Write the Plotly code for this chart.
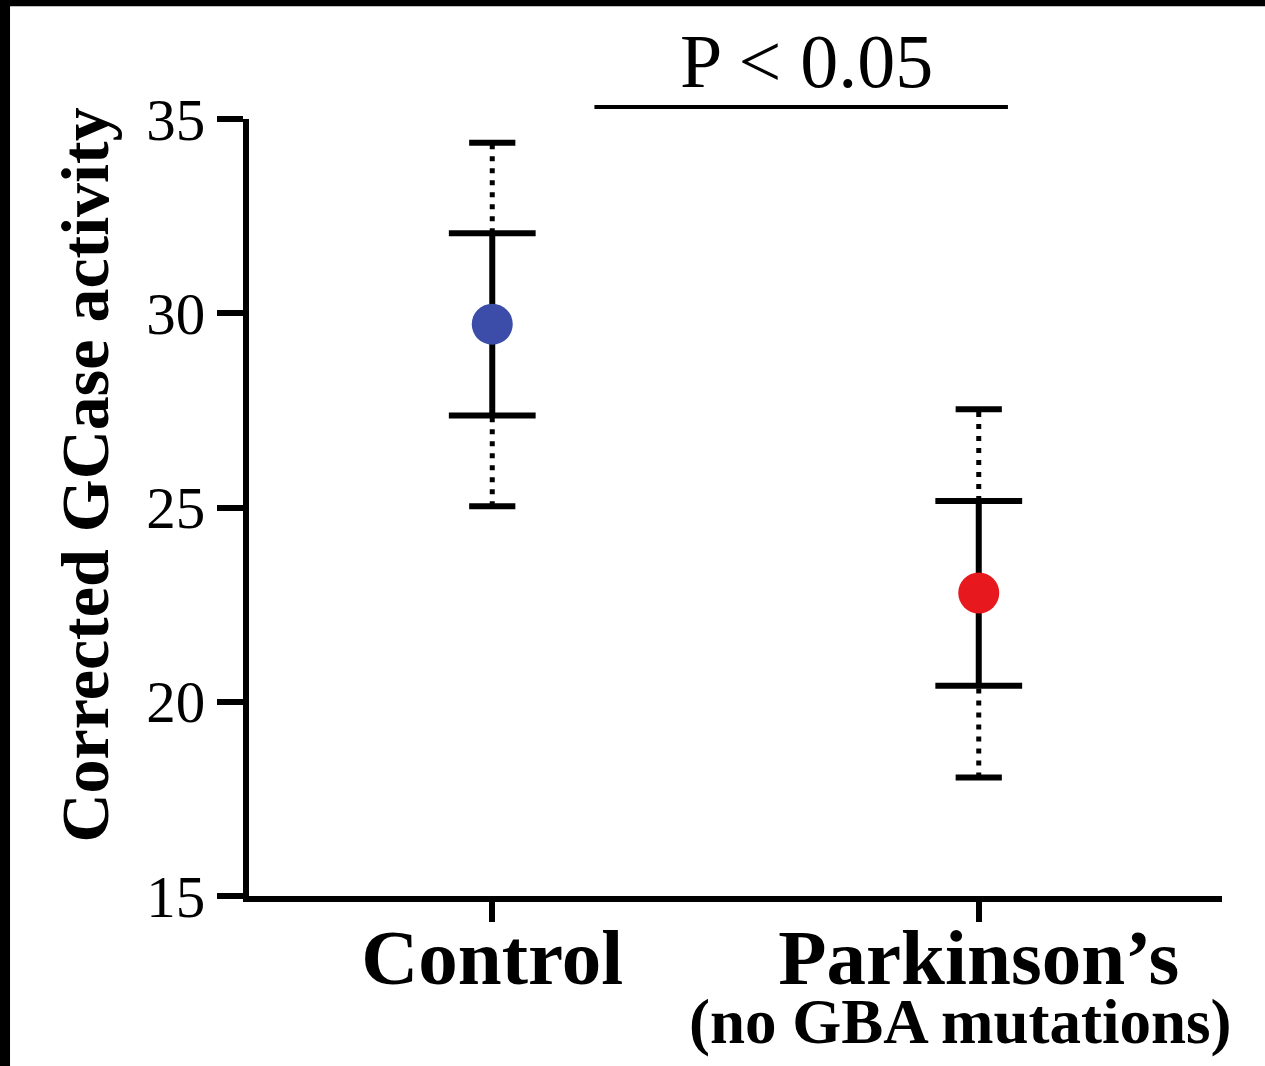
import plotly.graph_objects as go

# ---- data ----
groups = ["Control", "Parkinson’s"]
subtitle = "(no GBA mutations)"
means = [29.72, 22.80]
sd_low = [27.37, 20.41]
sd_high = [32.06, 25.17]
range_low = [25.03, 18.05]
range_high = [34.39, 27.53]
colors = ["#3B4DA8", "#E8191E"]
y_ticks = [15, 20, 25, 30, 35]
p_text = "P < 0.05"
y_title = "Corrected GCase activity"

FONT = "Liberation Serif, Times New Roman, serif"
pos = list(range(len(groups)))

fig = go.Figure()

# dotted range segments
dx, dy = [], []
for i in pos:
    dx += [i, i, None, i, i, None]
    dy += [range_low[i], sd_low[i], None, sd_high[i], range_high[i], None]
fig.add_trace(go.Scatter(x=dx, y=dy, mode="lines",
                         line=dict(color="black", width=5, dash="5px,7px"),
                         hoverinfo="skip", showlegend=False))

# solid SD segments
sx, sy = [], []
for i in pos:
    sx += [i, i, None]
    sy += [sd_low[i], sd_high[i], None]
fig.add_trace(go.Scatter(x=sx, y=sy, mode="lines",
                         line=dict(color="black", width=6),
                         hoverinfo="skip", showlegend=False))

# caps (line-ew length = 1.4 * size)
fig.add_trace(go.Scatter(x=pos + pos, y=range_low + range_high, mode="markers",
                         marker=dict(symbol="line-ew", size=33,
                                     line=dict(color="black", width=6)),
                         hoverinfo="skip", showlegend=False))
fig.add_trace(go.Scatter(x=pos + pos, y=sd_low + sd_high, mode="markers",
                         marker=dict(symbol="line-ew", size=62,
                                     line=dict(color="black", width=6)),
                         hoverinfo="skip", showlegend=False))

# means
fig.add_trace(go.Scatter(x=pos, y=means, mode="markers",
                         marker=dict(symbol="circle", size=41, color=colors,
                                     line=dict(width=0)),
                         showlegend=False))

# significance bar
fig.add_shape(type="line", xref="x", yref="paper", x0=0.21, x1=1.06, y0=1.0154, y1=1.0154,
              line=dict(color="black", width=4))
fig.add_annotation(x=0.645, y=1.0154, xref="x", yref="paper", text=p_text,
                   showarrow=False, yanchor="bottom", yshift=2,
                   font=dict(family=FONT, size=76, color="black"))

# y-axis title
fig.add_annotation(x=-0.1686, y=0.5424, xref="paper", yref="paper",
                   text="<b>" + y_title + "</b>", textangle=-90,
                   showarrow=False, xanchor="center", yanchor="middle",
                   font=dict(family=FONT, size=68, color="black"))

# subtitle under Parkinson's
fig.add_annotation(x=0.962, y=-0.114, xref="x", yref="paper", text="<b>" + subtitle + "</b>",
                   showarrow=False, xanchor="center", yanchor="top",
                   font=dict(family=FONT, size=63, color="black"))

# black border strips (decoration)
fig.add_shape(type="rect", xref="paper", yref="paper",
              x0=-0.3, x1=1.1, y0=1.1452, y1=1.25, fillcolor="black", line_width=0, layer="above")
fig.add_shape(type="rect", xref="paper", yref="paper",
              x0=-0.3, x1=-0.2456, y0=-0.3, y1=1.25, fillcolor="black", line_width=0, layer="above")

fig.update_layout(
    width=1265, height=1066,
    margin=dict(l=249, r=43, t=119, b=170),
    paper_bgcolor="white", plot_bgcolor="white",
    font=dict(family=FONT, color="black"),
    xaxis=dict(range=[-0.5, 1.5], tickvals=pos,
               ticktext=["<b>" + g + "</b>" for g in groups],
               tickfont=dict(family=FONT, size=79, color="black"),
               showline=True, linecolor="black", linewidth=6,
               ticks="outside", ticklen=20, tickwidth=6, tickcolor="black",
               ticklabelstandoff=-33,
               showgrid=False, zeroline=False, fixedrange=True),
    yaxis=dict(range=[15, 35], tickvals=y_ticks,
               tickfont=dict(family=FONT, size=59, color="black"),
               showline=True, linecolor="black", linewidth=6,
               ticks="outside", ticklen=26, tickwidth=6, tickcolor="black",
               showgrid=False, zeroline=False, fixedrange=True),
)

fig.write_html("out.html", config={"displayModeBar": False},
               post_script="document.body.style.margin='0px';")
